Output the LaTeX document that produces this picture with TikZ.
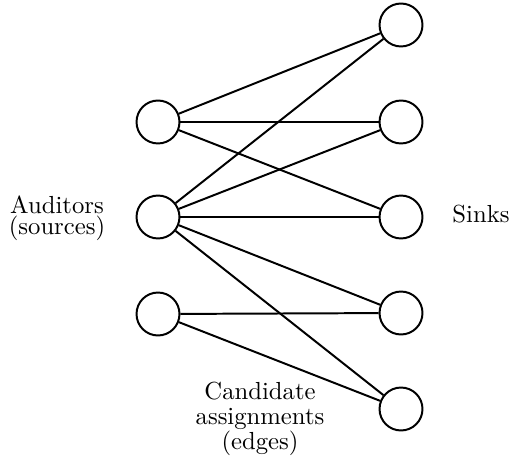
\documentclass[tikz,border=0pt]{standalone}
\begin{document}
\begin{tikzpicture}[x=0.405pt,y=-0.405pt,
    vertex/.style={draw,circle,thick,minimum size=17.4pt,inner sep=0pt},
    labeltext/.style={align=center,inner sep=0pt}]
      \useasboundingbox (0,0) rectangle (512,457);
      \draw
        (158,122) node[vertex] (a1){}
        (158,217) node[vertex] (a2){}
        (158,314) node[vertex] (a3){}
        (401,25) node[vertex] (s1){}
        (401,122) node[vertex] (s2){}
        (401,217) node[vertex] (s3){}
        (401,313) node[vertex] (s4){}
        (401,409) node[vertex] (s5){};
      \node[labeltext] (auditors) at (57,218) {Auditors\\[-3.5pt](sources)};
      \node[labeltext,anchor=base] (sinks) at (481,222) {Sinks};
      \node[labeltext] (edges) at (260,419) {Candidate\\[-1.9pt]assignments\\[-1.9pt](edges)};
      \begin{scope}[-,thick]
        \draw (a1) to (s1);
        \draw (a1) to (s2);
        \draw (a1) to (s3);
        \draw (a2) to (s1);
        \draw (a2) to (s2);
        \draw (a2) to (s3);
        \draw (a2) to (s4);
        \draw (a2) to (s5);
        \draw (a3) to (s4);
        \draw (a3) to (s5);
      \end{scope}
    \end{tikzpicture}
\end{document}
